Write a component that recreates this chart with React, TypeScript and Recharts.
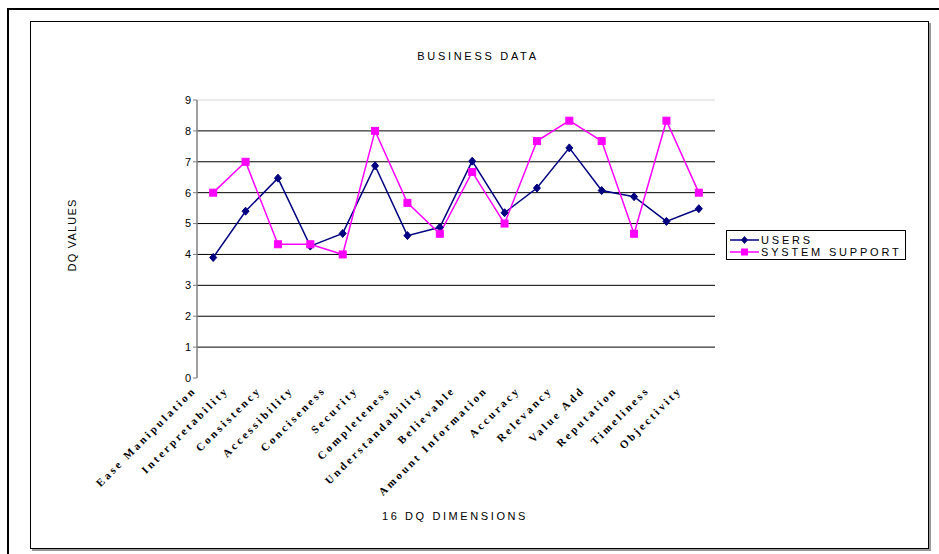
import React from 'react';
import { LineChart, Line, XAxis, YAxis, ReferenceLine } from 'recharts';

const categories = [
  'Ease Manipulation', 'Interpretability', 'Consistency', 'Accessibility',
  'Conciseness', 'Security', 'Completeness', 'Understandability',
  'Believable', 'Amount Information', 'Accuracy', 'Relevancy',
  'Value Add', 'Reputation', 'Timeliness', 'Objectivity',
];
const usersValues = [3.9, 5.4, 6.47, 4.27, 4.68, 6.87, 4.61, 4.88, 7.02, 5.35, 6.15, 7.45, 6.07, 5.87, 5.07, 5.48];
const supportValues = [6.0, 7.0, 4.33, 4.33, 4.0, 8.0, 5.67, 4.67, 6.67, 5.0, 7.67, 8.33, 7.67, 4.67, 8.33, 6.0];
const yTicks = [0, 1, 2, 3, 4, 5, 6, 7, 8, 9];
const gridValues = [1, 2, 3, 4, 5, 6, 7, 8];
const edgeTicks = Array.from({ length: 17 }, (_, i) => i - 0.5);

const data = categories.map((name, i) => ({
  idx: i,
  name,
  users: usersValues[i],
  support: supportValues[i],
}));

const NAVY = '#000080';
const MAGENTA = '#FF00FF';
const sans = 'Arial, "Liberation Sans", sans-serif';

const CategoryTick = (props: any) => {
  const { x, y, payload } = props;
  const label = categories[payload.value] ?? '';
  return (
    <g transform={`translate(${x - 19},${y + 2})`}>
      <text
        transform="rotate(-45)"
        textAnchor="end"
        dy={4}
        fontFamily='"Liberation Serif", "Times New Roman", serif'
        fontWeight="bold"
        fontSize={11}
        letterSpacing={2.8}
        fill="#000"
      >
        {label}
      </text>
    </g>
  );
};

const Diamond = (props: any) => {
  const { cx, cy } = props;
  if (cx == null || cy == null) return null;
  return <path d={`M${cx},${cy - 4}L${cx + 3.5},${cy}L${cx},${cy + 4}L${cx - 3.5},${cy}Z`} fill={NAVY} stroke={NAVY} />;
};

const Square = (props: any) => {
  const { cx, cy } = props;
  if (cx == null || cy == null) return null;
  return <rect x={cx - 3.5} y={cy - 3.5} width={7} height={7} fill={MAGENTA} stroke={MAGENTA} />;
};

const legendItems = [
  { label: 'USERS', color: NAVY, shape: 'diamond' },
  { label: 'SYSTEM SUPPORT', color: MAGENTA, shape: 'square' },
];

const LegendBox = () => (
  <div
    style={{
      position: 'absolute',
      left: 726,
      top: 230,
      border: '1px solid #000',
      width: 180,
      height: 30,
      boxSizing: 'border-box',
      padding: '3px 0 0 3px',
      fontFamily: sans,
      fontSize: 11,
      letterSpacing: 2.8,
      background: '#fff',
    }}
  >
    {legendItems.map((it) => (
      <div key={it.label} style={{ display: 'flex', alignItems: 'center', height: 12 }}>
        <svg width={29} height={10} style={{ marginRight: 2 }}>
          <line x1={0} y1={5} x2={29} y2={5} stroke={it.color} strokeWidth={1.5} />
          {it.shape === 'diamond' ? (
            <path d="M14.5,1L18,5L14.5,9L11,5Z" fill={it.color} />
          ) : (
            <rect x={11} y={1.5} width={7} height={7} fill={it.color} />
          )}
        </svg>
        <span style={{ lineHeight: '12px' }}>{it.label}</span>
      </div>
    ))}
  </div>
);

export default function App() {
  return (
    <div style={{ position: 'absolute', left: 0, top: 0, width: 939, height: 554, background: '#fff', overflow: 'hidden' }}>
      {/* outer frame */}
      <div style={{ position: 'absolute', left: 7, top: 8, width: 960, height: 600, border: '2px solid #000' }} />
      {/* inner frame with shadow */}
      <div
        style={{
          position: 'absolute', left: 30, top: 21, width: 897, height: 526,
          border: '1.5px solid #000', boxShadow: '2px 2px 0 #999', background: '#fff',
        }}
      />
      <div style={{ position: 'absolute', left: 378, top: 50, width: 200, textAlign: 'center', fontFamily: sans, fontSize: 11, letterSpacing: 2.7 }}>
        BUSINESS DATA
      </div>
      <div
        style={{
          position: 'absolute', left: 72, top: 235, transform: 'translate(-50%,-50%) rotate(-90deg)',
          fontFamily: sans, fontSize: 11, letterSpacing: 1.2, whiteSpace: 'nowrap',
        }}
      >
        DQ VALUES
      </div>
      <div style={{ position: 'absolute', left: 355, top: 510, width: 200, textAlign: 'center', fontFamily: sans, fontSize: 11, letterSpacing: 2.6 }}>
        16 DQ DIMENSIONS
      </div>
      <div style={{ position: 'absolute', left: 0, top: 0 }}>
        <LineChart width={939} height={554} data={data} margin={{ top: 100, right: 224, left: 0, bottom: 0 }}>
          <XAxis
            xAxisId="edges"
            type="number"
            dataKey="idx"
            domain={[-0.5, 15.5]}
            ticks={edgeTicks}
            tick={false}
            height={0}
            tickSize={5}
            stroke="#808080"
            axisLine={{ stroke: '#808080', strokeWidth: 1.5 }}
            allowDataOverflow
          />
          <XAxis
            xAxisId="cat"
            type="number"
            dataKey="idx"
            domain={[-0.5, 15.5]}
            ticks={categories.map((_, i) => i)}
            tick={<CategoryTick />}
            tickLine={false}
            axisLine={false}
            height={176}
            interval={0}
            allowDataOverflow
          />
          <YAxis
            domain={[0, 9]}
            ticks={yTicks}
            width={197}
            tickSize={4}
            stroke="#808080"
            axisLine={{ stroke: '#808080', strokeWidth: 1.5 }}
            tick={{ fill: '#000', fontFamily: sans, fontSize: 11 }}
            interval={0}
          />
          {gridValues.map((v) => (
            <ReferenceLine key={v} xAxisId="cat" y={v} stroke="#000" strokeWidth={1} />
          ))}
          <ReferenceLine xAxisId="cat" y={9} stroke="#d8d8d8" strokeWidth={1} />
          <Line
            xAxisId="cat"
            type="linear"
            dataKey="users"
            name="USERS"
            stroke={NAVY}
            strokeWidth={1.5}
            dot={<Diamond />}
            activeDot={false}
            isAnimationActive={false}
          />
          <Line
            xAxisId="cat"
            type="linear"
            dataKey="support"
            name="SYSTEM SUPPORT"
            stroke={MAGENTA}
            strokeWidth={1.5}
            dot={<Square />}
            activeDot={false}
            isAnimationActive={false}
          />
        </LineChart>
      </div>
      <LegendBox />
    </div>
  );
}
